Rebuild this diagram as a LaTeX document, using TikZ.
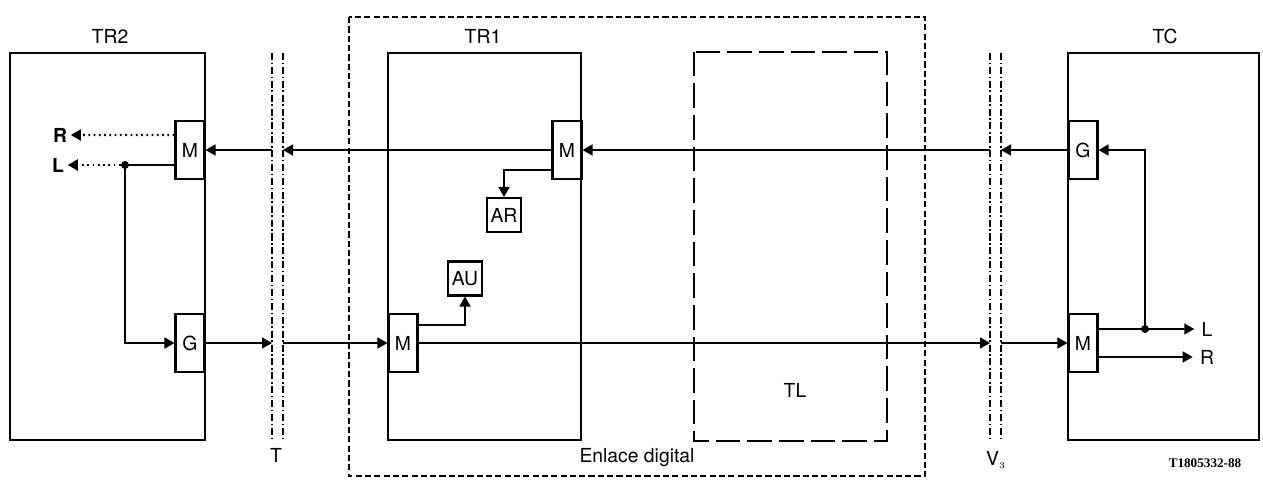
\documentclass[tikz,border=0pt]{standalone}
\usepackage{fontspec}
\setmainfont{TeX Gyre Heros}
\newfontfamily\refserif{Liberation Serif}
\usepackage{tikz}
\usetikzlibrary{arrows.meta,positioning,calc}
\tikzset{
  equipo/.style={rectangle, draw, line width=1.3pt, minimum width=#1, minimum height=7.74cm, inner sep=0pt},
  caja/.style={rectangle, draw, line width=1.2pt, minimum width=0.58cm, minimum height=1.16cm,
               inner sep=0pt, font=\fontsize{11}{13}\selectfont},
  cajita/.style={rectangle, draw, line width=1.2pt, minimum size=0.68cm, inner sep=0pt,
                 font=\fontsize{11}{13}\selectfont},
  etiq/.style={font=\fontsize{11}{13}\selectfont, inner sep=2pt},
  punto/.style={circle, fill, inner sep=0pt, minimum size=1.6mm},
  arr/.style={-{Triangle[length=2mm,width=2.2mm]}, line width=1pt},
  arrp/.style={arr, dotted, line width=1.2pt},
  linea/.style={line width=1pt},
  barrera/.style={line width=1.3pt, dash pattern=on 4pt off 1.5pt on 0.9pt off 1.5pt},
}
\begin{document}
\begin{tikzpicture}
  \useasboundingbox (0,0) rectangle (25.26,-9.58);
  % equipos
  \node[equipo=3.9cm] (tr2) at (2.15,-4.93) {};
  \node[equipo=3.86cm] (tr1) at (9.69,-4.93) {};
  \node[equipo=3.82cm, draw=none] (tl) at (15.81,-4.93) {};
  \draw[line width=1.2pt, dash pattern=on 14pt off 4pt] (tl.north west) rectangle (tl.south east);
  \node[equipo=3.82cm] (tc) at (23.27,-4.93) {};
  \node[rectangle, minimum width=11.52cm, minimum height=9.16cm] (enlace) at (12.74,-4.93) {};
  \draw[line width=1.2pt, dash pattern=on 3.5pt off 1.8pt] (enlace.north west) rectangle (enlace.south east);
  \node[etiq] at (2.2,-0.72) {TR2};
  \node[etiq] at (9.66,-0.72) {TR1};
  \node[etiq] at (23.3,-0.72) {TC};
  \node[etiq] at (15.9,-7.8) {TL};
  \node[etiq] at (12.74,-9.16) {Enlace digital};
  % interfaces T y V3
  \coordinate (tA) at (5.44,-1.06);
  \coordinate (tB) at (5.66,-1.06);
  \coordinate (vA) at (19.8,-1.06);
  \coordinate (vB) at (20.02,-1.06);
  \foreach \c in {tA,tB,vA,vB}
    \draw[barrera] (\c) -- ++(0,-7.74);
  \node[etiq] at (5.52,-9.1) {T};
  \node[etiq] at (19.92,-9.2) {V$_{\scriptscriptstyle 3}$};
  % bloques internos
  \node[caja] (m2) at (3.8,-3.0) {M};
  \node[caja] (g2) at (3.8,-6.86) {G};
  \node[caja] (m1a) at (11.34,-3.0) {M};
  \node[caja] (m1b) at (8.06,-6.86) {M};
  \node[cajita] (ar) at (10.08,-4.3) {AR};
  \node[cajita] (au) at (9.3,-5.57) {AU};
  \node[caja] (gc) at (21.66,-3.0) {G};
  \node[caja] (mc) at (21.66,-6.86) {M};
  % salidas R y L
  \node[etiq] (r2) at (1.2,-2.7) {\bfseries R};
  \node[etiq] (l2) at (1.16,-3.3) {\bfseries L};
  \node[punto] (d2) at (2.5,-3.3) {};
  \node[etiq, inner sep=4pt] (lc) at (24.14,-6.58) {L};
  \node[etiq, inner sep=4pt] (rc) at (24.14,-7.14) {R};
  \node[punto] (dc) at (22.9,-6.58) {};
  % sentido TC -> TR2
  \draw[arr] (gc.west) -- (gc.west -| vB);
  \draw[arr] (gc.west -| vA) -- (m1a.east);
  \draw[arr] (m1a.west) -- (m1a.west -| tB);
  \draw[arr] (m2.east -| tA) -- (m2.east);
  \draw[arrp] ([yshift=3mm]m2.west) -- (r2);
  \draw[linea] ([yshift=-3mm]m2.west) -- (d2.center);
  \draw[arrp] (d2) -- (l2);
  \draw[arr] (d2.center) |- (g2.west);
  % sentido TR2 -> TC
  \draw[arr] (g2.east) -- (g2.east -| tA);
  \draw[arr] (g2.east -| tB) -- (m1b.west);
  \draw[arr] (m1b.east) -- (m1b.east -| vA);
  \draw[arr] (mc.west -| vB) -- (mc.west);
  \draw[arr] ([yshift=2.8mm]mc.east) -- (lc);
  \draw[arr] ([yshift=-2.8mm]mc.east) -- (rc);
  \draw[arr] (dc.center) |- (gc.east);
  % alarmas
  \draw[arr] ([yshift=-4mm]m1a.west) -| (ar.north);
  \draw[arr] ([yshift=3.6mm]m1b.east) -| (au.south);
  \node[font=\refserif\bfseries\fontsize{7.5}{9}\selectfont] at (24.1,-9.26) {T1805332-88};
\end{tikzpicture}
\end{document}
